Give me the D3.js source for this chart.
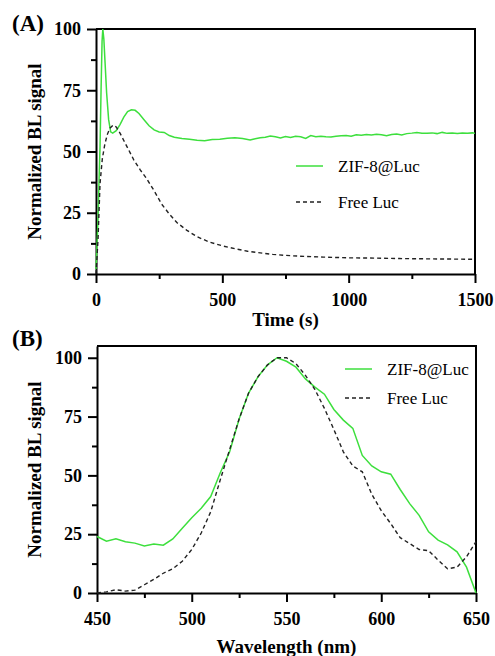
<!DOCTYPE html>
<html>
<head>
<meta charset="utf-8">
<script src="https://cdn.jsdelivr.net/npm/d3@7"></script>
<style>
  body { margin: 0; background: #fff; }
  text { font-family: "Liberation Serif", "Times New Roman", serif; }
  .tick text { font-weight: bold; font-size: 18px; }
  .axis-title { font-weight: bold; font-size: 19px; }
  .panel-tag { font-weight: bold; font-size: 23px; }
  .legend text { font-size: 17px; }
</style>
</head>
<body>
<svg id="chart" width="495" height="656"></svg>
<script>
// Panel A data: BL signal vs time
const zifTime   = [0, 4, 8, 12, 16, 20, 24, 27, 31, 36, 42, 50, 58, 66, 80, 95, 110, 125, 140, 155, 170, 190, 210, 230, 250, 270, 290, 310, 340, 370, 400, 430, 460, 490, 520, 550, 580, 610, 630, 650, 670, 690, 710, 730, 750, 770, 790, 810, 830, 850, 870, 890, 910, 930, 950, 970, 990, 1010, 1030, 1050, 1070, 1090, 1110, 1130, 1150, 1170, 1190, 1210, 1230, 1250, 1270, 1290, 1310, 1330, 1350, 1370, 1390, 1410, 1430, 1450, 1470, 1490, 1500];
const zifSignal = [2, 12, 22, 38, 52, 75, 95, 100, 96, 86, 74, 63, 58, 57.5, 58.5, 61, 64, 66.3, 67, 66.8, 65.5, 63, 60.5, 58.8, 58, 57.8, 56.5, 55.8, 55.3, 55.0, 54.6, 54.4, 54.9, 55.0, 55.4, 55.6, 55.3, 54.7, 55.2, 55.6, 55.8, 56.3, 56.0, 55.5, 56.1, 55.7, 56.2, 56.0, 55.3, 56.5, 56.0, 56.2, 56.0, 55.9, 56.2, 56.4, 56.5, 56.2, 56.8, 56.6, 56.9, 56.7, 57.0, 56.8, 56.4, 56.9, 57.1, 56.7, 57.3, 57.5, 57.8, 57.5, 57.5, 57.6, 57.3, 57.8, 57.4, 57.5, 57.3, 57.5, 57.4, 57.6, 57.4];

const freeTime   = [0, 8, 16, 25, 35, 45, 55, 68, 80, 95, 110, 130, 150, 175, 200, 230, 260, 290, 320, 360, 400, 450, 500, 550, 600, 650, 700, 750, 800, 900, 1000, 1100, 1200, 1300, 1400, 1500];
const freeSignal = [0, 14, 37, 47, 53, 57, 59.5, 60.8, 60, 57.5, 54.5, 50.5, 46.5, 42.5, 39, 34, 28.5, 24.5, 21, 17.8, 15.2, 13, 11.5, 10.3, 9.3, 8.6, 8.0, 7.6, 7.3, 6.9, 6.6, 6.5, 6.3, 6.2, 6.1, 6.0];

// Panel B data: emission spectra
const wavelength = [450, 455, 460, 465, 470, 475, 480, 485, 490, 495, 500, 505, 510, 515, 520, 525, 530, 535, 540, 545, 550, 555, 560, 565, 570, 575, 580, 585, 590, 595, 600, 605, 610, 615, 620, 625, 630, 635, 640, 645, 650];
const zifSpectrum  = [24, 22, 23, 21.8, 21.2, 20, 20.8, 20.3, 23, 27.5, 32, 36, 41, 51, 60, 74, 85, 92, 97, 100, 98.5, 96, 91, 87.5, 84.5, 78, 73.5, 70, 58.5, 54, 51.5, 50.5, 44, 38, 33, 26, 22.5, 20.5, 17.5, 11, 0];
const freeSpectrum = [0, 0.5, 1.4, 0.8, 1.2, 3.5, 5.8, 8.4, 10.3, 13.5, 18.5, 25.5, 34.5, 48, 61, 74, 85, 92, 97, 100, 100, 97.5, 92.5, 86.5, 78.5, 69.5, 60, 54, 51.5, 42, 35, 29.5, 23.5, 21, 18.5, 18, 14, 10.3, 11, 15.4, 21.8];

const seriesNames = ["ZIF-8@Luc", "Free Luc"];
const yTicks = [0, 25, 50, 75, 100];
const yMinorTicks = [12.5, 37.5, 62.5, 87.5];
const timeTicks = [0, 500, 1000, 1500];
const timeMinorTicks = [250, 750, 1250];
const wlTicks = [450, 500, 550, 600, 650];
const wlMinorTicks = [475, 525, 575, 625];

const GREEN = "#3ddf3d";

const svg = d3.select("#chart");

// Draw one framed panel
// ----------------------------------------
function panel(opt) {
    const x = d3.scaleLinear().domain(opt.xDomain).range([opt.left, opt.right]);
    const y = d3.scaleLinear().domain(opt.yDomain).range([opt.bottom, opt.top]);
    const g = svg.append("g");

    // minor ticks first, then major axes on top
    g.append("g")
        .attr("transform", `translate(0,${opt.bottom})`)
        .call(d3.axisBottom(x).tickValues(opt.xMinor).tickSize(5).tickFormat(""))
        .call(s => s.select(".domain").remove());
    g.append("g")
        .attr("transform", `translate(${opt.left},0)`)
        .call(d3.axisLeft(y).tickValues(yMinorTicks).tickSize(5).tickFormat(""))
        .call(s => s.select(".domain").remove());

    g.append("g")
        .attr("transform", `translate(0,${opt.bottom})`)
        .call(d3.axisBottom(x).tickValues(opt.xTicks).tickFormat(d3.format("d"))
            .tickSize(9).tickSizeOuter(0).tickPadding(10));
    g.append("g")
        .attr("transform", `translate(${opt.left},0)`)
        .call(d3.axisLeft(y).tickValues(yTicks).tickFormat(d3.format("d"))
            .tickSize(9).tickSizeOuter(0).tickPadding(6));

    g.selectAll(".domain, .tick line")
        .attr("stroke", "#000")
        .attr("stroke-width", 2);
    g.selectAll(".tick text").attr("fill", "#000");

    // top and right frame
    g.append("path")
        .attr("d", `M${opt.left},${opt.top}H${opt.right}V${opt.bottom}`)
        .attr("fill", "none")
        .attr("stroke", "#000")
        .attr("stroke-width", 2);

    // curves
    const line = d3.line().x(d => x(d[0])).y(d => y(d[1]));
    opt.series.forEach(s => {
        g.append("path")
            .datum(d3.zip(s.xs, s.ys))
            .attr("fill", "none")
            .attr("stroke", s.color)
            .attr("stroke-width", s.dash ? 1.4 : 1.5)
            .attr("stroke-dasharray", s.dash)
            .attr("d", line);
    });

    // legend
    const leg = g.append("g").attr("class", "legend");
    opt.series.forEach((s, i) => {
        const ly = opt.legendY + i * opt.legendGap;
        leg.append("line")
            .attr("x1", opt.legendX).attr("x2", opt.legendX + 27)
            .attr("y1", ly).attr("y2", ly)
            .attr("stroke", s.color)
            .attr("stroke-width", s.dash ? 1.4 : 1.5)
            .attr("stroke-dasharray", s.dash);
        leg.append("text")
            .attr("x", opt.legendX + 42)
            .attr("y", ly + 6)
            .text(seriesNames[i]);
    });

    // titles
    g.append("text")
        .attr("class", "axis-title")
        .attr("text-anchor", "middle")
        .attr("x", (opt.left + opt.right) / 2)
        .attr("y", opt.xTitleY)
        .text(opt.xTitle);
    g.append("text")
        .attr("class", "axis-title")
        .attr("text-anchor", "middle")
        .attr("transform", `translate(41,${(opt.top + opt.bottom) / 2}) rotate(-90)`)
        .text("Normalized BL signal");
    g.append("text")
        .attr("class", "panel-tag")
        .attr("x", 12)
        .attr("y", opt.tagY)
        .text(opt.tag);
}

panel({
    xDomain: [0, 1500], yDomain: [0, 100],
    left: 96, right: 475, top: 29, bottom: 274,
    xTicks: timeTicks, xMinor: timeMinorTicks,
    series: [
        { xs: zifTime, ys: zifSignal, color: GREEN },
        { xs: freeTime, ys: freeSignal, color: "#222", dash: "4,3" }
    ],
    legendX: 296, legendY: 166, legendGap: 36,
    xTitle: "Time (s)", xTitleY: 326,
    tag: "(A)", tagY: 31
});

panel({
    xDomain: [450, 650], yDomain: [0, 105],
    left: 97, right: 476, top: 346, bottom: 593,
    xTicks: wlTicks, xMinor: wlMinorTicks,
    series: [
        { xs: wavelength, ys: zifSpectrum, color: GREEN },
        { xs: wavelength, ys: freeSpectrum, color: "#222", dash: "4,3" }
    ],
    legendX: 345, legendY: 369, legendGap: 29,
    xTitle: "Wavelength (nm)", xTitleY: 653,
    tag: "(B)", tagY: 346
});
</script>
</body>
</html>
